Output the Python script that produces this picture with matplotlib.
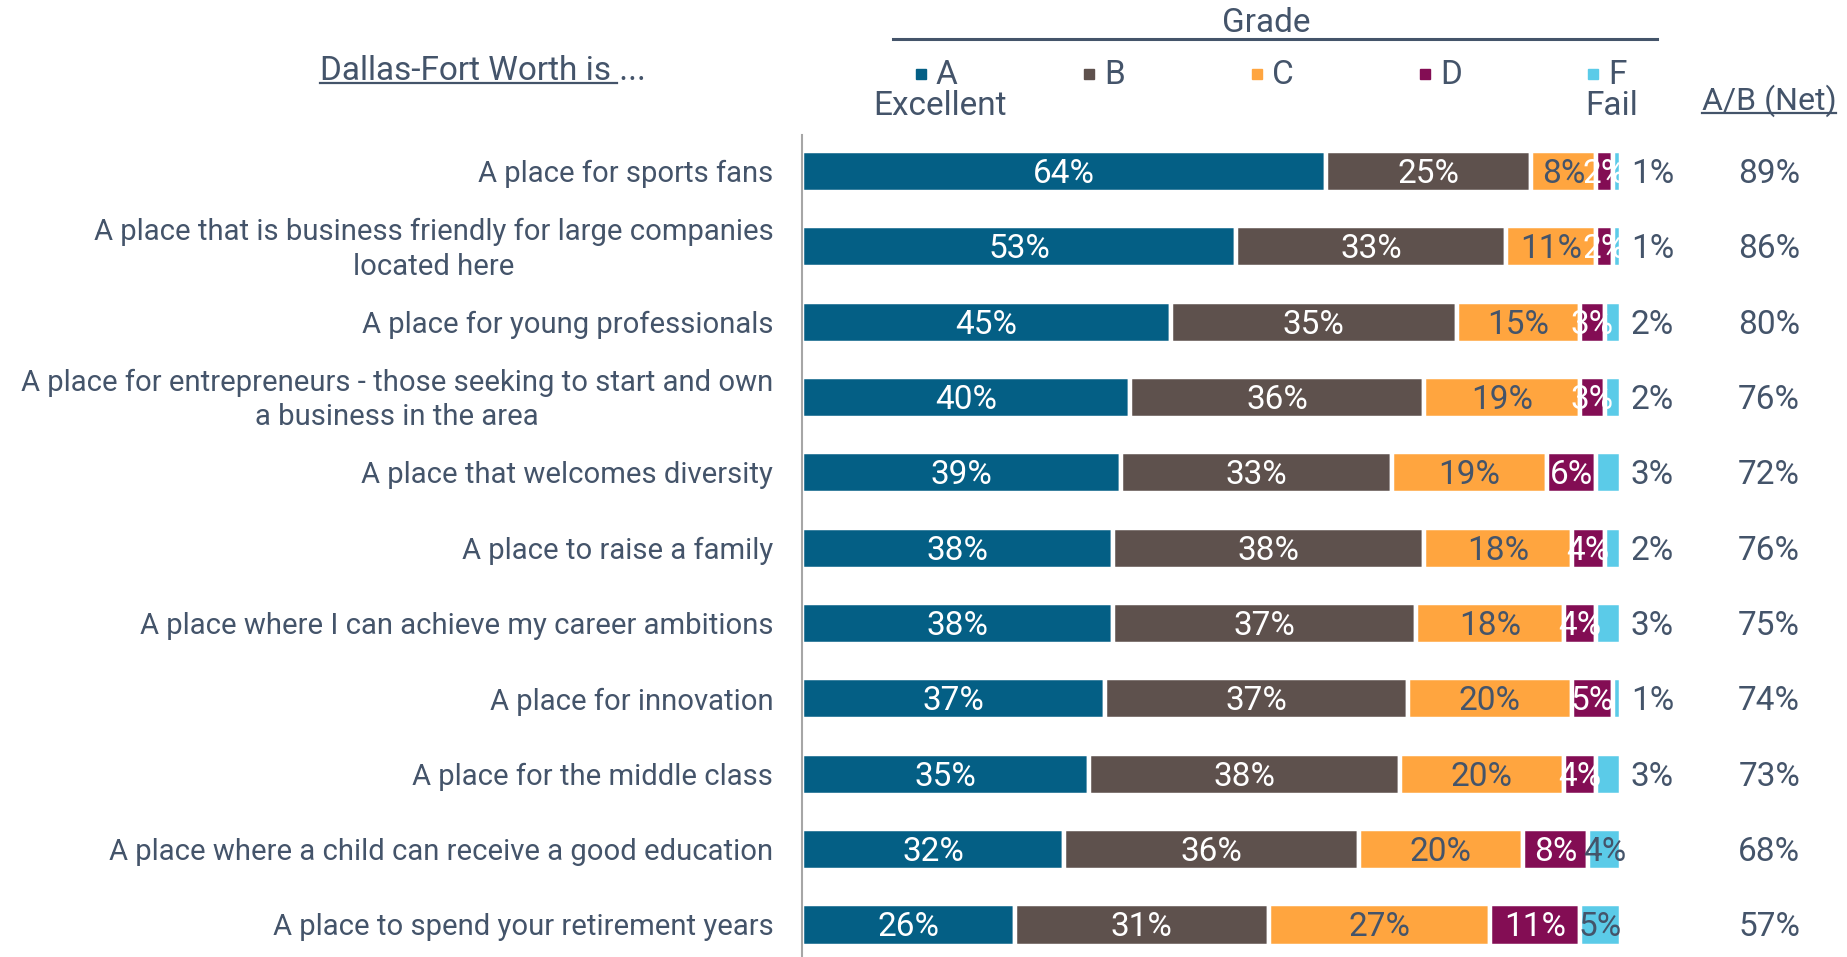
import numpy as np
import matplotlib
matplotlib.use("Agg")
import matplotlib.pyplot as plt
from matplotlib.lines import Line2D
from matplotlib.transforms import offset_copy

plt.rcParams['font.family'] = ['Roboto', 'DejaVu Sans']

# data (top to bottom)
statements = [
    "A place for sports fans",
    "A place that is business friendly for large companies\nlocated here",
    "A place for young professionals",
    "A place for entrepreneurs - those seeking to start and own\na business in the area",
    "A place that welcomes diversity",
    "A place to raise a family",
    "A place where I can achieve my career ambitions",
    "A place for innovation",
    "A place for the middle class",
    "A place where a child can receive a good education",
    "A place to spend your retirement years",
]
grade_a = [64, 53, 45, 40, 39, 38, 38, 37, 35, 32, 26]
grade_b = [25, 33, 35, 36, 33, 38, 37, 37, 38, 36, 31]
grade_c = [8, 11, 15, 19, 19, 18, 18, 20, 20, 20, 27]
grade_d = [2, 2, 3, 3, 6, 4, 4, 5, 4, 8, 11]
grade_f = [1, 1, 2, 2, 3, 2, 3, 1, 3, 4, 5]
net_ab = [89, 86, 80, 76, 72, 76, 75, 74, 73, 68, 57]

grades = ['A', 'B', 'C', 'D', 'F']
grade_notes = ['Excellent', '', '', '', 'Fail']

colors = ['#045F85', '#5E514D', '#FFA53F', '#830D54', '#5BCBE8']
label_colors = ['white', 'white', '#44546A', 'white', '#44546A']
TXT = '#44546A'

W, H = 1847, 957
fig = plt.figure(figsize=(W / 100, H / 100), dpi=100)
ax = fig.add_axes([802 / W, 0, 819 / W, 822 / H])
ax.set_xlim(0, 100)
ax.set_ylim(10.425, -0.484)
# texts sit a little lower than the bar centres
tdata = offset_copy(ax.transData, fig=fig, y=-2.5, units='dots')

series = [grade_a, grade_b, grade_c, grade_d, grade_f]
y = np.arange(len(statements))
left = np.zeros(len(statements))
for k, (vals, col, tcol) in enumerate(zip(series, colors, label_colors)):
    vals = np.array(vals, dtype=float)
    ax.barh(y, vals, left=left, height=0.545, color=col,
            edgecolor='white', linewidth=3.2)
    for i, v in enumerate(vals):
        if grades[k] == 'F' and v < 4:
            ax.text(left[i] + v + 1.2, i, f"{v:.0f}%", ha='left', va='center',
                    fontsize=24, color=TXT, clip_on=False, transform=tdata)
        else:
            ax.text(left[i] + v / 2, i, f"{v:.0f}%", ha='center', va='center',
                    fontsize=24, color=tcol, clip_on=False, transform=tdata)
    left += vals

for i, s in enumerate(statements):
    ax.text(-3.5, i, s, ha='right', va='center', multialignment='center',
            fontsize=21.1, color=TXT, linespacing=1.3, clip_on=False,
            transform=tdata)

for i, v in enumerate(net_ab):
    ax.text(118.1, i, f"{v}%", ha='center', va='center', fontsize=24,
            color=TXT, clip_on=False, transform=tdata)

for side in ['top', 'right', 'bottom']:
    ax.spines[side].set_visible(False)
ax.spines['left'].set_color('#A6A6A6')
ax.spines['left'].set_linewidth(1.5)
ax.set_xticks([])
ax.set_yticks([])

renderer = fig.canvas.get_renderer()


def underline(txt, part=None, extra=0):
    bb = txt.get_window_extent(renderer)
    w = bb.width
    if part is not None:
        tmp = fig.text(0, 0, part, fontsize=txt.get_fontsize())
        w = tmp.get_window_extent(renderer).width + extra
        tmp.remove()
    yy = bb.y0 + 4
    fig.add_artist(Line2D([bb.x0 / W, (bb.x0 + w) / W], [yy / H, yy / H],
                          color=TXT, lw=1.6))


# headers
hdr = fig.text(320 / W, 1 - 71 / H, "Dallas-Fort Worth is ...", ha='left',
               va='center', fontsize=24, color=TXT)
underline(hdr, "Dallas-Fort Worth is", extra=6)

net_hdr = fig.text(1769 / W, 1 - 101 / H, "A/B (Net)", ha='center',
                   va='center', fontsize=23, color=TXT)
underline(net_hdr)

fig.text(1266 / W, 1 - 23 / H, "Grade", ha='center', va='center',
         fontsize=24, color=TXT)
fig.add_artist(Line2D([893 / W, 1657 / W], [1 - 39 / H] * 2, color=TXT, lw=2.2))

# legend
for k, (g, note, col) in enumerate(zip(grades, grade_notes, colors)):
    sx = 921 + 168 * k
    fig.add_artist(Line2D([sx / W], [1 - 74 / H], marker='s', markersize=7,
                          color=col, linestyle='none'))
    fig.text((sx + 15) / W, 1 - 75 / H, g, ha='left', va='center',
             fontsize=24, color=TXT)
    if note:
        fig.text((sx + 19) / W, 1 - 106 / H, note, ha='center', va='center',
                 fontsize=24, color=TXT)

fig.savefig("out.png", dpi=100, facecolor='white')
